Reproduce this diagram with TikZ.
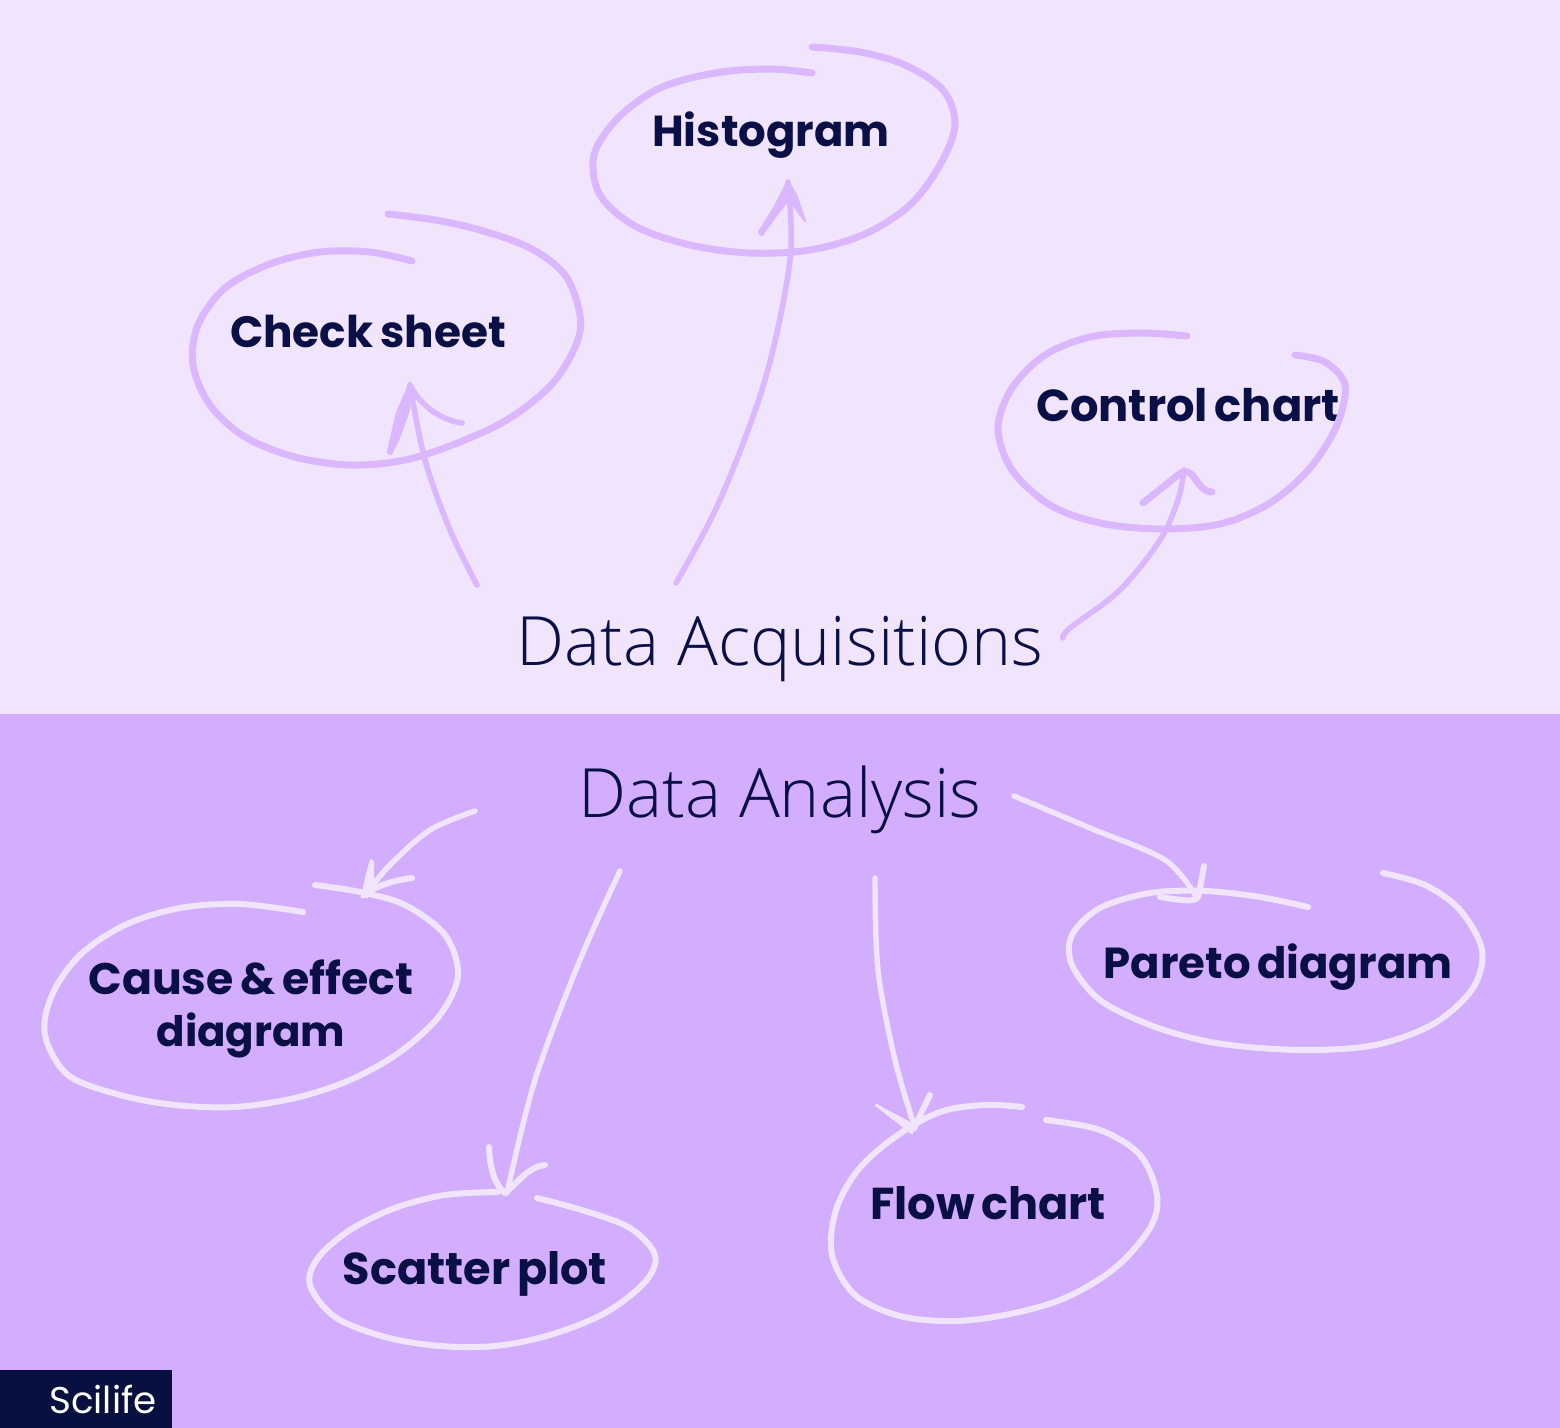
\documentclass[tikz,border=0pt]{standalone}
\usepackage{fontspec}
\setmainfont{Poppins}
\newfontfamily\boldf{Poppins}[UprightFont=* Bold,WordSpace=0.72]
\newfontfamily\lightf{Open Sans}[UprightFont=* Light]
\definecolor{topbg}{HTML}{F1E5FE}
\definecolor{botbg}{HTML}{D4AEFE}
\definecolor{ink}{HTML}{0A0F45}
\definecolor{logobg}{HTML}{07103F}
\definecolor{darkstroke}{HTML}{DAB7FE}
\definecolor{lightstroke}{HTML}{F1E5FE}
\tikzset{
 lbl/.style={font=\boldf\fontsize{#1}{26}\selectfont,text=ink,align=center,inner sep=0pt},
 hdr/.style={font=\lightf\fontsize{34}{38}\selectfont,text=ink,inner sep=0pt,anchor=base},
 dk/.style={draw=darkstroke,line width=3.5pt,line cap=round,line join=round},
 dks/.style={draw=darkstroke,line width=2.8pt,line cap=round,line join=round},
 lt/.style={draw=lightstroke,line width=3pt,line cap=round,line join=round},
 lts/.style={draw=lightstroke,line width=2.7pt,line cap=round,line join=round},
 dkhead/.style={fill=darkstroke,draw=darkstroke,line width=1.2pt,line join=round},
 lthead/.style={fill=lightstroke,draw=lightstroke,line width=1.2pt,line join=round},
 loopline/.style={smooth,tension=.55},
}
\begin{document}
\begin{tikzpicture}[x=0.5pt,y=-0.5pt]
\useasboundingbox (0,0) rectangle (1560,1428);
\fill[topbg] (0,0) rectangle (1560,714);
\fill[botbg] (0,714) rectangle (1560,1428);
\fill[logobg] (0,1370) rectangle (172,1428);
\node[font=\fontsize{18.6}{24}\selectfont,text=white,inner sep=0pt] (logo) at (103,1399) {Scilife};
\node[hdr] (acq) at (780,666) {Data Acquisitions};
\node[hdr] (ana) at (780,818) {Data Analysis};
\node[lbl=21.7] (hist) at (771,135) {Histogram};
\node[lbl=21.9] (check) at (368,331) {Check sheet};
\node[lbl=22.4] (ctrl) at (1188,405) {Control chart};
\node[lbl=22.1] (cause) at (251,1009) {Cause \& effect\\{\fontsize{21}{26}\selectfont diagram}};
\node[lbl=22.3] (scat) at (475,1274) {Scatter plot};
\node[lbl=22.3] (flow) at (988,1203) {Flow chart};
\node[lbl=21.7] (par) at (1278,967) {Pareto diagram};
% loops
\draw[dk] plot[loopline] coordinates {(412,261)(370,252)(320,252)(270,264)(225,288)(198,325)(193,365)(210,405)(245,437)(295,457)(350,465)(405,460)(460,442)(510,418)(552,384)(576,345)(580,315)(565,275)(530,248)(480,230)(435,220)(388,214)};
\draw[dk] plot[loopline] coordinates {(812,73)(770,69)(715,73)(660,88)(618,118)(594,155)(600,195)(635,226)(690,245)(750,253)(810,250)(865,234)(910,205)(940,165)(955,125)(943,90)(905,65)(860,52)(812,47)};
\draw[dk] plot[loopline] coordinates {(1187,336)(1140,333)(1090,337)(1045,355)(1012,388)(998,428)(1012,470)(1050,505)(1100,523)(1160,529)(1220,524)(1270,503)(1310,468)(1337,425)(1345,385)(1325,362)(1295,355)};
\draw[lt] plot[loopline] coordinates {(303,912)(240,904)(180,908)(125,925)(80,955)(52,995)(45,1035)(68,1075)(120,1095)(175,1105)(235,1107)(295,1098)(350,1080)(400,1052)(440,1015)(458,975)(445,935)(405,905)(360,892)(315,885)};
\draw[lt] plot[loopline] coordinates {(498,1192)(445,1195)(395,1208)(350,1230)(318,1258)(310,1285)(335,1317)(385,1337)(440,1346)(495,1346)(550,1335)(605,1313)(645,1282)(655,1255)(630,1228)(585,1211)(537,1198)};
\draw[lt] plot[loopline] coordinates {(1022,1107)(985,1105)(940,1112)(895,1137)(858,1170)(836,1210)(832,1255)(855,1295)(900,1316)(955,1321)(1010,1314)(1065,1298)(1115,1268)(1150,1228)(1157,1195)(1140,1155)(1100,1130)(1046,1120)};
\draw[lt] plot[loopline] coordinates {(1308,907)(1260,897)(1205,891)(1150,893)(1100,908)(1072,935)(1072,965)(1100,1000)(1150,1025)(1205,1041)(1260,1048)(1320,1050)(1380,1044)(1435,1023)(1473,988)(1482,950)(1460,910)(1425,885)(1383,873)};
% arrows
\draw[dks] plot[smooth,tension=.55] coordinates {(477,585)(450,530)(425,460)(410,385)};
\draw[dks] (410,385) .. controls (420,405) and (440,420) .. (462,423);
\filldraw[dkhead] (410,383) -- (397,413) -- (388,452) -- (391,454) -- (398,440) -- (409,410) -- cycle;
\draw[dks] plot[smooth,tension=.55] coordinates {(676,583)(720,500)(765,380)(790,260)(788,182)};
\filldraw[dkhead] (788,181) -- (773,210) -- (759,232) -- (762,235) -- (777,214) -- (789,199) -- (805,221) -- (796,195) -- cycle;
\draw[dks] plot[smooth,tension=.55] coordinates {(1063,638)(1070,628)(1120,590)(1160,540)(1178,500)(1184,470)};
\draw[dk] (1143,503) -- (1178,475) .. controls (1195,462) and (1195,492) .. (1212,492);
\draw[lts] plot[smooth,tension=.55] coordinates {(475,811)(430,830)(390,865)(365,895)};
\filldraw[lthead] (371,860) -- (367,875) -- (362,897) -- (367,897) -- (373,885) -- (373,862) -- cycle;
\draw[lt] (365,893) .. controls (380,885) and (395,880) .. (412,878);
\draw[lts] plot[smooth,tension=.55] coordinates {(620,871)(580,960)(535,1080)(507,1193)};
\draw[lt] (489,1147) .. controls (490,1170) and (495,1185) .. (505,1193) .. controls (520,1180) and (530,1166) .. (545,1165);
\draw[lts] plot[smooth,tension=.55] coordinates {(875,878)(878,970)(895,1060)(915,1128)};
\filldraw[lthead] (876,1105) -- (912,1133) -- (915,1126) -- cycle;
\draw[lt] (930,1095) -- (914,1128);
\draw[lts] plot[smooth,tension=.55] coordinates {(1014,796)(1090,828)(1165,860)(1197,898)};
\draw[lt] (1204,866) -- (1199,893) .. controls (1198,902) and (1192,902) .. (1160,897);
\end{tikzpicture}
\end{document}
